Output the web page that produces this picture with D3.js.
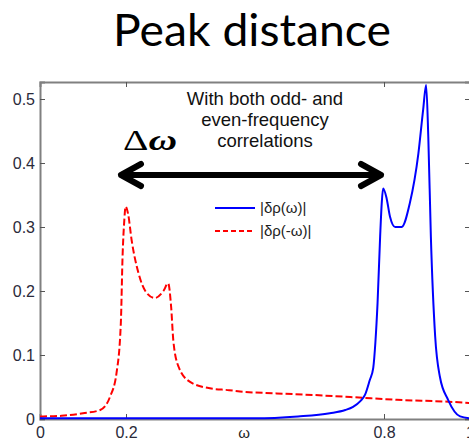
<!DOCTYPE html>
<html>
<head>
<meta charset="utf-8">
<script src="https://cdn.jsdelivr.net/npm/d3@7"></script>
<style>
  body { margin: 0; background: #fff; }
  svg { display: block; }
  text { font-family: "Liberation Sans", Arial, sans-serif; }
</style>
</head>
<body>
<svg width="469" height="441"></svg>
<script>
// values
const xTicks = [0, 0.2, 0.8, 1];
const yTicks = [0, 0.1, 0.2, 0.3, 0.4, 0.5];

const omegaPos = [0, 0.1, 0.3, 0.5, 0.6, 0.674, 0.71, 0.728, 0.745, 0.756, 0.767, 0.775, 0.78, 0.785, 0.791,
  0.795, 0.798, 0.806, 0.814, 0.826, 0.841, 0.86, 0.88, 0.891, 0.898, 0.903, 0.909, 0.919, 0.93, 0.949, 0.977, 1];
const rhoPos = [0.001, 0.001, 0.001, 0.001, 0.004, 0.009, 0.014, 0.019, 0.028, 0.038, 0.061, 0.08, 0.12, 0.181, 0.285,
  0.34, 0.360, 0.345, 0.316, 0.30, 0.30, 0.337, 0.415, 0.483, 0.522, 0.441, 0.285, 0.129, 0.066, 0.030, 0.004, 0.001];

const omegaNeg = [0, 0.05, 0.1, 0.14, 0.163, 0.178, 0.188, 0.192, 0.196, 0.199, 0.205, 0.213, 0.229, 0.248, 0.267,
  0.287, 0.298, 0.305, 0.31, 0.322, 0.349, 0.395, 0.44, 0.465, 0.55, 0.635, 0.73, 0.83, 0.95, 1];
const rhoNeg = [0.004, 0.005, 0.009, 0.014, 0.035, 0.072, 0.15, 0.254, 0.31, 0.332, 0.32, 0.28, 0.228, 0.197, 0.189,
  0.2, 0.212, 0.175, 0.123, 0.082, 0.058, 0.048, 0.045, 0.043, 0.04, 0.0375, 0.034, 0.03, 0.027, 0.025];

const svg = d3.select("svg"),
    plotLeft = 40, plotRight = 470, plotTop = 82, plotBottom = 419;

const x = d3.scaleLinear().domain([0, 1]).range([plotLeft, plotRight]);
const y = d3.scaleLinear().domain([0, (plotBottom - plotTop) / 640]).range([plotBottom, plotTop]);

// title
svg.append("text")
    .attr("x", 113).attr("y", 46)
    .attr("textLength", 278)
    .attr("lengthAdjust", "spacingAndGlyphs")
    .style("font-family", "Lato, 'Open Sans', sans-serif")
    .style("font-size", "44px")
    .text("Peak distance");

// axes, matlab style: ticks inside on all sides
const axisColor = "#808080";
const tickLen = 5;

const gx = svg.append("g").attr("transform", "translate(0," + plotBottom + ")")
    .call(d3.axisBottom(x).tickValues(xTicks).tickSize(-tickLen).tickPadding(8).tickFormat(d3.format("")));
const gxt = svg.append("g").attr("transform", "translate(0," + plotTop + ")")
    .call(d3.axisTop(x).tickValues(xTicks).tickSize(-tickLen).tickFormat(""));
const gy = svg.append("g").attr("transform", "translate(" + plotLeft + ",0)")
    .call(d3.axisLeft(y).tickValues(yTicks).tickSize(-tickLen).tickPadding(5).tickFormat(d3.format("")));
const gyr = svg.append("g").attr("transform", "translate(" + plotRight + ",0)")
    .call(d3.axisRight(y).tickValues(yTicks).tickSize(-tickLen).tickFormat(""));

[gx, gxt, gy, gyr].forEach(function(g) {
  g.select(".domain").attr("stroke", axisColor).attr("stroke-width", 2);
  g.selectAll(".tick line").attr("stroke", "#555");
  g.selectAll(".tick text").attr("fill", "#2a2a3a").style("font-size", "16px")
      .style("font-family", "'Liberation Sans', Arial, sans-serif");
});

svg.append("text")
    .attr("x", 244).attr("y", 438)
    .attr("text-anchor", "middle")
    .style("font-size", "15px")
    .attr("fill", "#222")
    .text("ω");

// curves
const line = d3.line().curve(d3.curveMonotoneX);

svg.append("path")
    .attr("d", line(omegaNeg.map(function(d, i) { return [x(d), y(rhoNeg[i])]; })))
    .attr("fill", "none")
    .attr("stroke", "#ff0000")
    .attr("stroke-width", 2)
    .attr("stroke-dasharray", "7,3");

svg.append("path")
    .attr("d", line(omegaPos.map(function(d, i) { return [x(d), y(rhoPos[i])]; })))
    .attr("fill", "none")
    .attr("stroke", "#0000ff")
    .attr("stroke-width", 2);

// legend
svg.append("line").attr("x1", 215).attr("x2", 255).attr("y1", 208).attr("y2", 208)
    .attr("stroke", "#0000ff").attr("stroke-width", 2);
svg.append("line").attr("x1", 215).attr("x2", 255).attr("y1", 231).attr("y2", 231)
    .attr("stroke", "#ff0000").attr("stroke-width", 2).attr("stroke-dasharray", "5,3");
svg.append("text").attr("x", 260).attr("y", 213).style("font-size", "15px").attr("fill", "#222").text("|δρ(ω)|");
svg.append("text").attr("x", 260).attr("y", 236).style("font-size", "15px").attr("fill", "#222").text("|δρ(-ω)|");

// annotation
const note = ["With both odd- and", "even-frequency", "correlations"];
svg.append("g").selectAll("text")
  .data(note)
  .enter().append("text")
    .attr("x", 265)
    .attr("y", function(d, i) { return 105 + i * 21; })
    .attr("text-anchor", "middle")
    .style("font-size", "18.5px")
    .attr("fill", "#111")
    .text(function(d) { return d; });

const dw = svg.append("text")
    .attr("x", 123).attr("y", 150)
    .attr("textLength", 54)
    .attr("lengthAdjust", "spacingAndGlyphs")
    .style("font-family", "'Liberation Serif', 'DejaVu Serif', serif")
    .style("font-size", "29px");
dw.append("tspan").text("Δ");
dw.append("tspan").style("font-style", "italic").style("font-weight", "bold").text("ω");

// double arrow
const ay = 175, ax1 = 121, ax2 = 381;
svg.append("path")
    .attr("d", "M" + ax1 + "," + ay + "H" + ax2 +
        "M" + (ax1 + 20) + "," + (ay - 11) + "L" + ax1 + "," + ay + "L" + (ax1 + 20) + "," + (ay + 11) +
        "M" + (ax2 - 20) + "," + (ay - 11) + "L" + ax2 + "," + ay + "L" + (ax2 - 20) + "," + (ay + 11))
    .attr("fill", "none")
    .attr("stroke", "#000")
    .attr("stroke-width", 6)
    .attr("stroke-linecap", "round")
    .attr("stroke-linejoin", "round");
</script>
</body>
</html>
